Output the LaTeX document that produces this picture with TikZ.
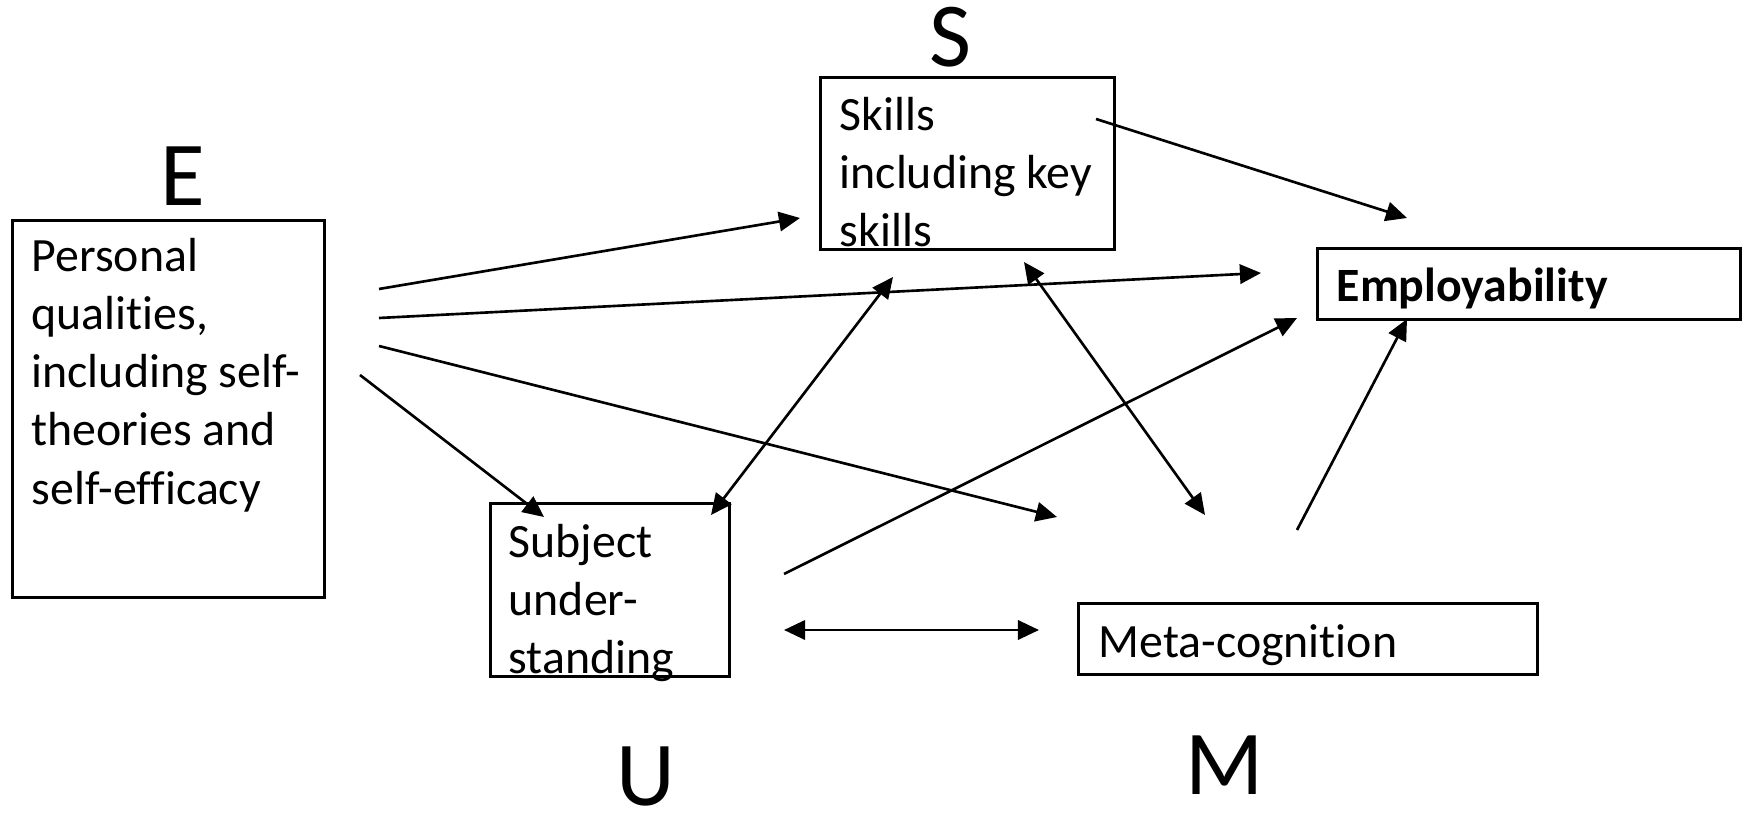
\documentclass[tikz,border=0pt]{standalone}
\usepackage{fontspec}
\setmainfont{Carlito}[Ligatures=NoCommon]
\usetikzlibrary{arrows.meta}

\begin{document}
\begin{tikzpicture}[
        x=0.01cm, y=-0.01cm,
        >={Triangle[length=6pt,width=5.5pt]},
        box/.style={
          draw,
          line width=0.8pt,
          anchor=north west,
          inner sep=0pt
        },
        boxtext/.style={
          anchor=north west,
          inner sep=0pt,
          align=left,
          font=\fontsize{13.6}{16.5}\selectfont
        },
        letter/.style={
          inner sep=0pt,
          font=\fontsize{26}{30}\selectfont
        },
        link/.style={
          ->,
          line width=0.75pt
        },
        twoway/.style={
          <->,
          line width=0.75pt
        }
      ]
        \useasboundingbox (0,0) rectangle (1743,822);

        % the five boxes
        \node[box,minimum width=3.12cm,minimum height=3.77cm] (pq) at (11,219) {};
        \node[box,minimum width=2.94cm,minimum height=1.72cm] (sk) at (819,76) {};
        \node[box,minimum width=4.23cm,minimum height=0.71cm] (emp) at (1316,247) {};
        \node[box,minimum width=2.39cm,minimum height=1.73cm] (su) at (489,502) {};
        \node[box,minimum width=4.59cm,minimum height=0.71cm] (mc) at (1077,602) {};

        \node[boxtext] (pqtext) at (31,238) {Personal\\qualities,\\including self-\\theories and\\self-efficacy};
        \node[boxtext] (sktext) at (839,97) {Skills\\including key\\skills};
        \node[boxtext,font=\fontsize{13.6}{16.5}\selectfont\bfseries] (emptext) at (1336,267) {Employability};
        \node[boxtext] (sutext) at (508,524) {Subject\\under-\\standing};
        \node[boxtext] (mctext) at (1098,624) {Meta-cognition};

        \foreach \n/\x/\y in {E/183/176,S/950/37,U/646/776,M/1225/765}
          \node[letter] (l\n) at (\x,\y) {\n};

        % free ends of the arrows
        \coordinate (pq1) at (379,289);
        \coordinate (pq2) at (379,318);
        \coordinate (pq3) at (379,346);
        \coordinate (pq4) at (360,375);
        \coordinate (sk1) at (800,218);
        \coordinate (sk2) at (1096,119);
        \coordinate (sk3) at (893,277);
        \coordinate (sk4) at (1024,262);
        \coordinate (emp1) at (1261,273);
        \coordinate (emp2) at (1407,218);
        \coordinate (emp3) at (1297,318);
        \coordinate (emp4) at (1407,319);
        \coordinate (su1) at (544,517);
        \coordinate (su2) at (711,515);
        \coordinate (su3) at (784,574);
        \coordinate (su4) at (784,630);
        \coordinate (mc1) at (1057,517);
        \coordinate (mc2) at (1205,515);
        \coordinate (mc3) at (1039,630);
        \coordinate (mc4) at (1297,530);

        \draw[link] (pq1) -- (sk1);
        \draw[link] (pq2) -- (emp1);
        \draw[link] (pq3) -- (mc1);
        \draw[link] (pq4) -- (su1);
        \draw[link] (sk2) -- (emp2);
        \draw[twoway] (su2) -- (sk3);
        \draw[twoway] (sk4) -- (mc2);
        \draw[link] (su3) -- (emp3);
        \draw[twoway] (su4) -- (mc3);
        \draw[link] (mc4) -- (emp4);
      \end{tikzpicture}
\end{document}
